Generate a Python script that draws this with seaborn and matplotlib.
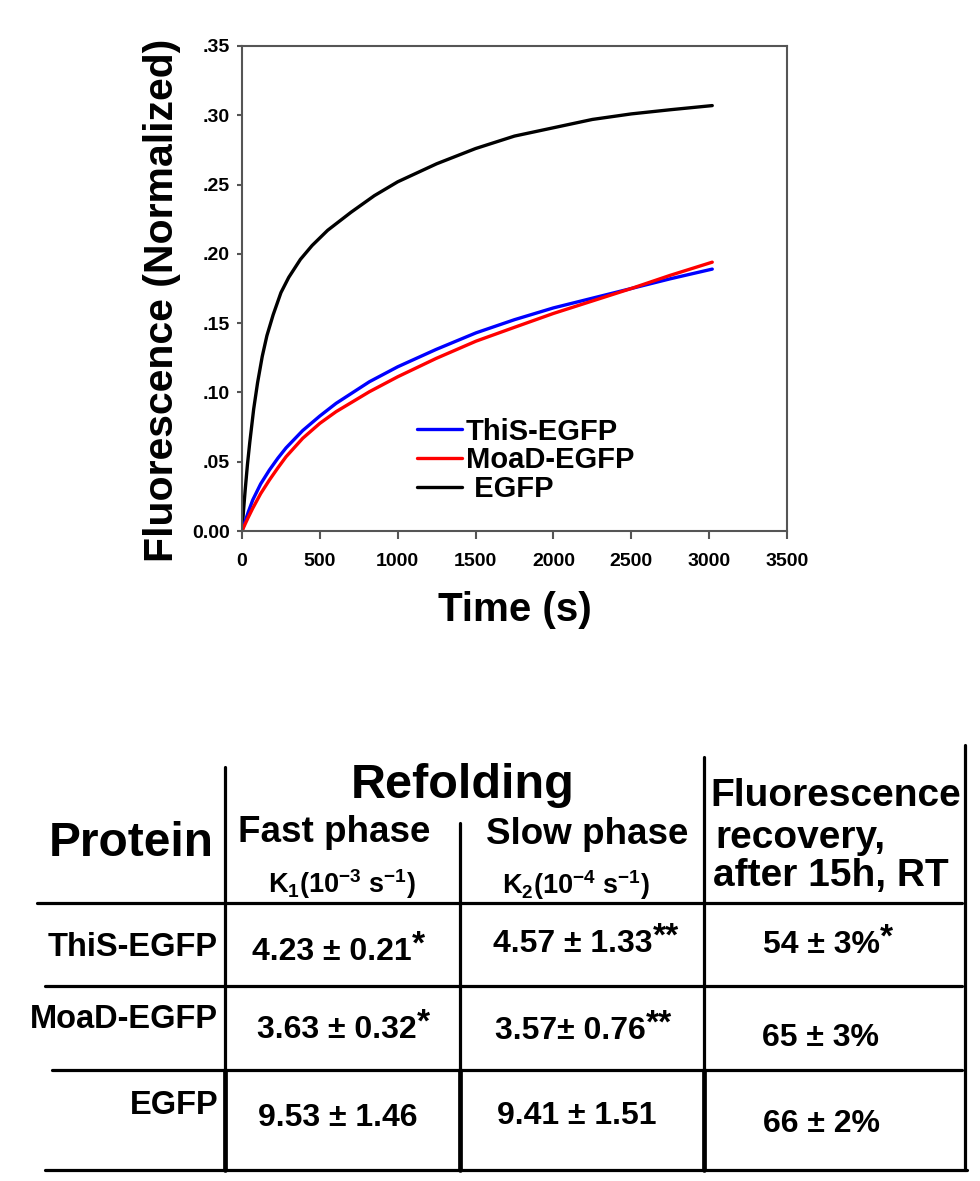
import pandas as pd
import seaborn as sns
import matplotlib.pyplot as plt
from matplotlib.lines import Line2D

# refolding curves
egfp_time = [0, 10, 20, 35, 50, 75, 100, 130, 160, 200, 250, 300, 375, 450, 550,
             700, 850, 1000, 1250, 1500, 1750, 2000, 2250, 2500, 2750, 3020]
egfp = [0.0, 0.015, 0.029, 0.048, 0.064, 0.088, 0.107, 0.126, 0.141, 0.156, 0.172,
        0.183, 0.196, 0.206, 0.217, 0.230, 0.242, 0.252, 0.265, 0.276, 0.285,
        0.291, 0.297, 0.301, 0.304, 0.307]
fusion_time = [0, 20, 40, 69, 120, 176, 230, 283, 390, 500, 604, 818, 1000, 1246,
               1503, 1750, 2000, 2250, 2500, 2750, 3020]
this_egfp = [0.0, 0.0070, 0.0136, 0.0224, 0.0340, 0.0440, 0.0525, 0.0600, 0.0725,
             0.0830, 0.0921, 0.1077, 0.1185, 0.1310, 0.1430, 0.1525, 0.1610,
             0.1680, 0.1750, 0.1820, 0.1890]
moad_egfp = [0.0, 0.0050, 0.0098, 0.0164, 0.0270, 0.0368, 0.0455, 0.0536, 0.0669,
             0.0777, 0.0861, 0.1005, 0.1113, 0.1245, 0.1370, 0.1470, 0.1570,
             0.1660, 0.1750, 0.1845, 0.1940]

xticks = [0, 500, 1000, 1500, 2000, 2500, 3000, 3500]
yticks = [0.0, 0.05, 0.10, 0.15, 0.20, 0.25, 0.30, 0.35]
ytick_labels = ["0.00", ".05", ".10", ".15", ".20", ".25", ".30", ".35"]

# table contents
proteins = ["ThiS-EGFP", "MoaD-EGFP", "EGFP"]
fast_vals = ["4.23 \u00b1 0.21", "3.63 \u00b1 0.32", "9.53 \u00b1 1.46"]
fast_marks = ["*", "*", ""]
slow_vals = ["4.57 \u00b1 1.33", "3.57\u00b1 0.76", "9.41 \u00b1 1.51"]
slow_marks = ["**", "**", ""]
recovery_vals = ["54 \u00b1 3%", "65 \u00b1 3%", "66 \u00b1 2%"]
recovery_marks = ["*", "", ""]

sns.set_style("white")
plt.rcParams['font.family'] = ['Liberation Sans', 'DejaVu Sans']
plt.rcParams['font.weight'] = 'bold'
plt.rcParams['mathtext.default'] = 'regular'
for k in ['text.color', 'axes.labelcolor', 'xtick.labelcolor', 'ytick.labelcolor']:
    plt.rcParams[k] = 'black'

df = pd.concat([
    pd.DataFrame({"time": egfp_time, "value": egfp, "protein": "EGFP"}),
    pd.DataFrame({"time": fusion_time, "value": this_egfp, "protein": "ThiS-EGFP"}),
    pd.DataFrame({"time": fusion_time, "value": moad_egfp, "protein": "MoaD-EGFP"}),
], ignore_index=True)
colors = {"ThiS-EGFP": "#0000ff", "MoaD-EGFP": "#ff0000", "EGFP": "#000000"}

fig = plt.figure(figsize=(9.8, 11.81), dpi=100)
tab = fig.add_axes([0, 0, 1, 1])
tab.set_xlim(0, 980)
tab.set_ylim(1181, 0)
tab.axis("off")

ax = fig.add_axes([242 / 980, 1 - 531 / 1181, 545 / 980, 485 / 1181])
sns.lineplot(data=df, x="time", y="value", hue="protein", palette=colors,
             hue_order=["EGFP", "ThiS-EGFP", "MoaD-EGFP"], linewidth=2.4,
             legend=False, ax=ax)
ax.set_xlim(0, 3500)
ax.set_ylim(0, 0.35)
ax.set_xticks(xticks)
ax.set_yticks(yticks, labels=ytick_labels)
for lab in ax.get_xticklabels() + ax.get_yticklabels():
    lab.set_fontsize(14)
    lab.set_fontweight('bold')
ax.tick_params(bottom=True, left=True, direction="out", width=1.5, color="#555555")
ax.tick_params(axis="x", length=5.8, pad=10)
ax.tick_params(axis="y", length=3.6, pad=5)
for sp in ax.spines.values():
    sp.set_color("#555555")
    sp.set_linewidth(1.5)

ax.set_xlabel("Time (s)", fontsize=29, fontweight="bold", labelpad=15)
ax.set_ylabel("Fluorescence (Normalized)", fontsize=29.5, fontweight="bold")
ax.yaxis.set_label_coords(-0.112, 0.475)

handles = [Line2D([], [], color=colors[p], lw=2.4) for p in proteins]
ax.legend(handles, ["ThiS-EGFP", "MoaD-EGFP", " EGFP"], loc="upper left",
          bbox_to_anchor=(0.294, 0.264), frameon=False, borderpad=0,
          handlelength=1.55, handletextpad=0.13, labelspacing=0.02,
          prop=dict(weight='bold', size=21))

# table grid
lw = 2.3
for x, y0 in [(225, 767), (460, 823), (704, 757), (965, 745)]:
    tab.plot([x, x], [y0, 1170], color="black", lw=lw)
for x in [225, 460, 704]:
    tab.plot([x, x], [1070, 1170], color="black", lw=3.4)
for y, x0, x1 in [(903, 37, 962), (986, 45, 962), (1070, 52, 962), (1170, 45, 967)]:
    tab.plot([x0, x1], [y, y], color="black", lw=lw)

# table header
tab.text(463, 786, "Refolding", fontsize=35, ha="center", va="center")
tab.text(131, 843, "Protein", fontsize=34.5, ha="center", va="center")
tab.text(334, 833, "Fast phase", fontsize=26.5, ha="center", va="center")
tab.text(342, 884, r"K$_1$(10$^{-3}$ s$^{-1}$)", fontsize=19.5, ha="center", va="center")
tab.text(587, 835, "Slow phase", fontsize=26.5, ha="center", va="center")
tab.text(576, 885, r"K$_2$(10$^{-4}$ s$^{-1}$)", fontsize=19.5, ha="center", va="center")
tab.text(710, 796, "Fluorescence", fontsize=28, ha="left", va="center")
tab.text(715, 838, "recovery,", fontsize=28, ha="left", va="center")
tab.text(713, 876, "after 15h, RT", fontsize=28, ha="left", va="center")

# table rows
label_y = [948, 1019, 1106]
fast_y = [952, 1030, 1118]
slow_y = [944, 1031, 1116]
rec_y = [945, 1038, 1124]
fast_x = [252, 257, 258]
slow_x = [493, 495, 497]
rec_x = [763, 762, 763]
for i, p in enumerate(proteins):
    tab.text(218, label_y[i], p, fontsize=23.5, ha="right", va="center")
    for xs, ys, vals, marks in [(fast_x, fast_y, fast_vals, fast_marks),
                                (slow_x, slow_y, slow_vals, slow_marks),
                                (rec_x, rec_y, recovery_vals, recovery_marks)]:
        t = tab.text(xs[i], ys[i], vals[i], fontsize=23, ha="left", va="center")
        if marks[i]:
            tab.annotate(marks[i], xy=(1, 1), xycoords=t, xytext=(0, 5),
                         textcoords="offset points", fontsize=24,
                         ha="left", va="top")

fig.savefig("out.png", dpi=100)
